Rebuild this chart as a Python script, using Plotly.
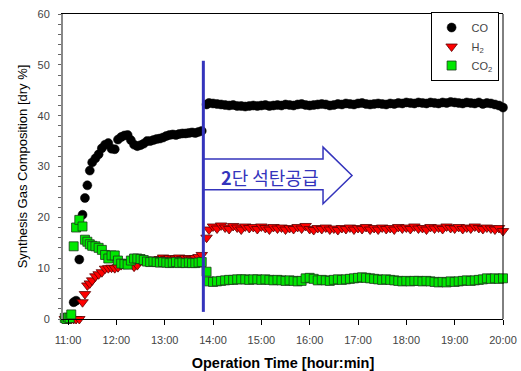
import plotly.graph_objects as go

# ---- data (time in minutes after 11:00) ----
minutes = [-4, -2, 0, 2, 4, 7, 10, 14, 18, 21, 24, 27, 30, 34, 38, 42, 46, 50, 54, 58,
           62, 66, 70, 74, 78, 82, 86, 90, 94, 98, 102, 106, 110, 114, 118, 122, 126,
           130, 134, 138, 142, 146, 150, 154, 158, 162, 166,
           172, 175, 180, 185, 190, 195, 200, 205, 210, 215, 220, 225, 230, 235, 240,
           245, 250, 255, 260, 265, 270, 275, 280, 285, 290, 295, 300, 305, 310, 315,
           320, 325, 330, 335, 340, 345, 350, 355, 360, 365, 370, 375, 380, 385, 390,
           395, 400, 405, 410, 415, 420, 425, 430, 435, 440, 445, 450, 455, 460, 465,
           470, 475, 480, 485, 490, 495, 500, 505, 510, 515, 520, 525, 530, 535, 540]

co = [0, 0, 0, 0.3, 0.5, 3.3, 3.6, 11.7, 20.5, 23.8, 26.3, 29.2, 30.8, 31.6, 32.4, 33.6,
      34.3, 34.6, 33.5, 33.4, 35.3, 35.8, 36.1, 36.2, 35.2, 34.3, 34.0, 34.2, 34.5, 35.0,
      35.0, 35.2, 35.4, 35.5, 35.7, 36.0, 36.2, 36.3, 36.2, 36.4, 36.5, 36.5, 36.6, 36.7,
      36.6, 36.8, 37.0,
      42.2, 42.5, 42.4, 42.3, 42.2, 42.1, 42.0, 42.1, 41.9, 41.9, 41.8, 41.9, 42.0, 41.9,
      42.0, 42.1, 41.9, 42.0, 42.1, 42.0, 42.2, 42.1, 42.0, 42.2, 42.3, 42.1, 42.0, 42.1,
      42.2, 42.3, 42.2, 42.0, 42.1, 42.3, 42.2, 42.4, 42.3, 42.2, 42.4, 42.5, 42.3, 42.2,
      42.3, 42.4, 42.3, 42.2, 42.4, 42.3, 42.5, 42.4, 42.6, 42.5, 42.4, 42.6, 42.5, 42.4,
      42.6, 42.5, 42.4, 42.6, 42.5, 42.7, 42.6, 42.5, 42.4, 42.6, 42.5, 42.4, 42.6, 42.3,
      42.5, 42.4, 42.2, 42.0, 41.6]

h2 = [0, 0, 0, 0, 0, 0, 0, 0, 3.3, 4.9, 6.6, 7.0, 7.6, 8.4, 8.8, 9.2, 9.9, 10.0, 10.1,
      10.0, 10.2, 10.6, 10.8, 11.2, 11.0, 10.3, 10.6, 11.4, 11.6, 11.3, 11.5, 11.7, 11.6,
      11.8, 12.1, 11.8, 12.0, 11.7, 11.9, 12.1, 11.8, 12.0, 11.9, 11.7, 12.0, 12.2, 12.6,
      16.0, 17.6, 18.2, 17.8, 18.4, 18.0, 17.7, 18.3, 18.0, 17.6, 18.2, 17.9, 18.1, 17.7,
      18.2, 17.9, 17.6, 18.1, 17.8, 18.0, 17.6, 17.9, 17.7, 18.1, 17.8, 18.3, 17.7, 17.5,
      17.9, 17.7, 18.0, 17.6, 17.8, 17.5, 17.9, 17.7, 18.0, 17.6, 17.9, 17.7, 18.1, 17.6,
      17.9, 17.6, 18.0, 17.7, 17.9, 17.6, 18.1, 17.8, 18.0, 17.7, 18.2, 17.8, 17.9, 17.6,
      18.1, 17.8, 18.0, 17.7, 18.2, 17.9, 17.8, 18.1, 17.7, 18.0, 17.8, 18.2, 17.9, 17.7,
      18.0, 17.8, 17.6, 17.9, 17.3]

co2 = [0.2, 0, 0.3, 0.2, 0.9, 14.3, 18.0, 19.5, 18.2, 15.6, 15.2, 14.7, 14.4, 14.3, 14.0,
       13.6, 12.6, 11.9, 12.5, 12.5, 11.5, 10.9, 10.8, 10.7, 11.5, 11.9, 11.9, 11.8, 11.6,
       11.3, 11.2, 11.3, 11.2, 11.1, 11.2, 11.1, 11.0, 11.1, 11.2, 11.0, 11.1, 11.0, 11.1,
       11.0, 11.0, 11.1, 11.2,
       9.3, 7.4, 7.3, 7.4, 7.5, 7.6, 7.7, 7.7, 7.8, 7.8, 7.8, 7.7, 7.8, 7.8, 7.7, 7.8, 7.7,
       7.6, 7.7, 7.6, 7.5, 7.6, 7.5, 7.4, 7.5, 8.0, 8.1, 7.9, 7.6, 7.7, 7.6, 7.5, 7.7, 7.8,
       7.7, 7.8, 7.9, 8.0, 8.1, 8.2, 8.1, 8.0, 7.9, 7.8, 7.7, 7.8, 7.7, 7.6, 7.5, 7.4, 7.5,
       7.4, 7.5, 7.5, 7.4, 7.5, 7.4, 7.3, 7.2, 7.3, 7.2, 7.4, 7.3, 7.4, 7.5, 7.6, 7.5, 7.6,
       7.7, 7.8, 8.0, 7.9, 8.0, 7.9, 8.0]

tick_hours = [11, 12, 13, 14, 15, 16, 17, 18, 19, 20]
tick_labels = ["11:00", "12:00", "13:00", "14:00", "15:00", "16:00", "17:00",
               "18:00", "19:00", "20:00"]

hours = [11 + m / 60 for m in minutes]

BLUE = "#3434BC"
FONT = "Liberation Sans, Arial, sans-serif"

fig = go.Figure()
fig.add_trace(go.Scatter(x=hours, y=co, mode="markers", name="CO", cliponaxis=False,
                         marker=dict(symbol="circle", size=9, color="black",
                                     line=dict(color="black", width=0.5))))
fig.add_trace(go.Scatter(x=hours, y=h2, mode="markers", name="H<sub>2</sub>", cliponaxis=False,
                         marker=dict(symbol="triangle-down", size=10, color="#FF0000",
                                     line=dict(color="#5a0000", width=0.8))))
fig.add_trace(go.Scatter(x=hours, y=co2, mode="markers", name="CO<sub>2</sub>", cliponaxis=False,
                         marker=dict(symbol="square", size=9, color="#00E800",
                                     line=dict(color="#1a3a1a", width=0.8))))

# arrow (white fill, blue outline)
fig.add_shape(type="path",
              path="M 13.8,31.46 L 16.276,31.46 L 16.276,33.81 L 16.876,28.24 "
                   "L 16.276,22.67 L 16.276,25.41 L 13.8,25.41",
              xref="x", yref="y", fillcolor="white",
              line=dict(color=BLUE, width=1.5), layer="above")
# vertical line
fig.add_shape(type="line", x0=13.8, x1=13.8, y0=1.4, y1=50.8, xref="x", yref="y",
              line=dict(color=BLUE, width=3), layer="above")
# right frame
fig.add_shape(type="line", x0=1, x1=1, y0=0, y1=1, xref="paper", yref="paper",
              line=dict(color="black", width=1), layer="above")

fig.add_annotation(x=15.16, y=27.9, xref="x", yref="y", showarrow=False,
                   text="<b>2</b>단 석탄공급",
                   font=dict(family="Noto Sans CJK KR", size=18, color=BLUE))

fig.update_layout(
    width=521, height=371,
    margin=dict(l=63, r=18, t=12, b=52),
    plot_bgcolor="white", paper_bgcolor="white",
    font=dict(family=FONT, color="#333"),
    showlegend=True,
    legend=dict(x=0.99, y=1.0065, xanchor="right", yanchor="top",
                bordercolor="black", borderwidth=1, bgcolor="white",
                font=dict(size=11, color="#444", family=FONT)),
    xaxis=dict(range=[10.896, 20.0], tickvals=tick_hours, ticktext=tick_labels,
               automargin=False,
               showgrid=False, zeroline=False, showline=True, linecolor="black",
               linewidth=1, mirror=True, ticks="outside", ticklen=5, tickcolor="black",
               ticklabelstandoff=6,
               tickfont=dict(size=11, color="#444"),
               title=dict(text="<b>Operation Time [hour:min]</b>",
                          font=dict(size=14.5, color="black"), standoff=12)),
    yaxis=dict(range=[0, 60], dtick=10, showgrid=False, zeroline=False,
               automargin=False,
               showline=True, linecolor="#888", linewidth=2, ticks="outside",
               ticklen=3, tickcolor="#666", tickfont=dict(size=11, color="#444"),
               ticklabelstandoff=6,
               minor=dict(dtick=2, ticks="outside", ticklen=3, tickcolor="#666"),
               title=dict(text="Synthesis Gas Composition [dry %]",
                          font=dict(size=13, color="black"), standoff=7)),
)

fig.write_html("out.html")
